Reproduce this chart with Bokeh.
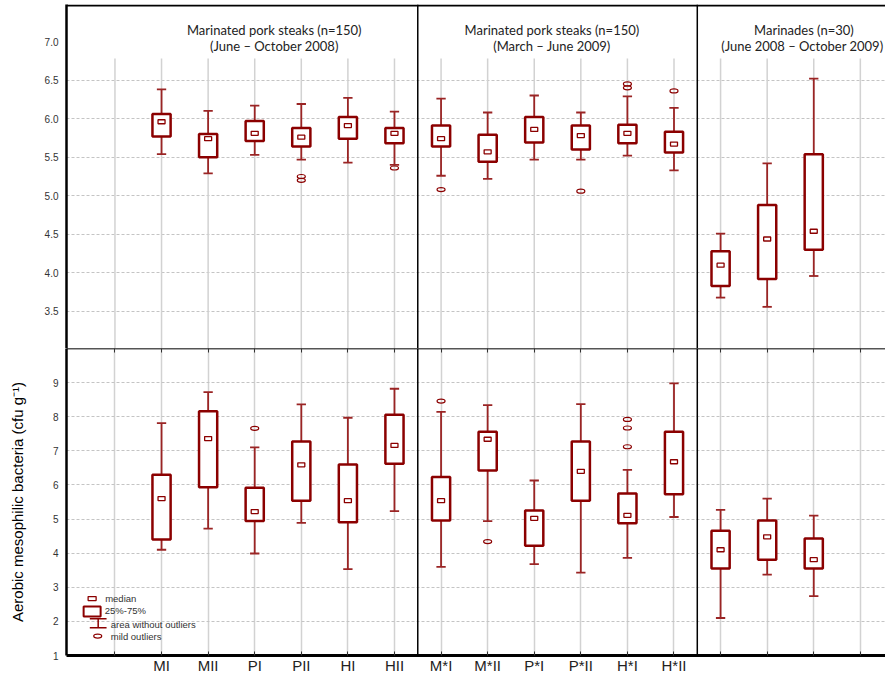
import math
from bokeh.plotting import figure
from bokeh.layouts import column
from bokeh.models import Range1d, FixedTicker, Span, Label, LinearAxis, PrintfTickFormatter
from bokeh.embed import file_html
from bokeh.resources import INLINE
from bokeh.core.properties import value

# ---------------- data ----------------
categories = ["MI", "MII", "PI", "PII", "HI", "HII",
              "M*I", "M*II", "P*I", "P*II", "H*I", "H*II",
              "M", "P", "H"]
italic_categories = ["M", "P", "H"]

# pH-value (upper panel)
ph_upper = [6.38, 6.10, 6.17, 6.19, 6.27, 6.09, 6.26, 6.08, 6.30, 6.08, 6.29, 6.14, 4.51, 5.42, 6.52]
ph_q3 = [6.06, 5.80, 5.97, 5.88, 6.02, 5.88, 5.91, 5.79, 6.02, 5.91, 5.92, 5.83, 4.28, 4.88, 5.54]
ph_median = [5.96, 5.74, 5.81, 5.76, 5.91, 5.81, 5.74, 5.57, 5.86, 5.78, 5.81, 5.67, 4.10, 4.44, 4.54]
ph_q1 = [5.77, 5.50, 5.71, 5.64, 5.74, 5.68, 5.64, 5.44, 5.69, 5.60, 5.68, 5.56, 3.83, 3.92, 4.30]
ph_lower = [5.54, 5.29, 5.53, 5.47, 5.43, 5.40, 5.26, 5.22, 5.47, 5.47, 5.52, 5.33, 3.68, 3.56, 3.96]
ph_outlier_cat = ["PII", "PII", "HII", "M*I", "P*II", "H*I", "H*I", "H*II"]
ph_outlier_val = [5.25, 5.20, 5.36, 5.08, 5.06, 6.45, 6.40, 6.36]

# Aerobic mesophilic bacteria (lower panel)
amb_upper = [7.81, 8.72, 7.10, 8.36, 7.97, 8.82, 8.14, 8.34, 6.13, 8.37, 6.44, 8.98, 5.27, 5.60, 5.10]
amb_q3 = [6.30, 8.16, 5.92, 7.27, 6.60, 8.06, 6.23, 7.56, 5.25, 7.27, 5.75, 7.56, 4.66, 4.96, 4.43]
amb_median = [5.60, 7.36, 5.22, 6.59, 5.54, 7.16, 5.54, 7.34, 5.02, 6.40, 5.11, 6.68, 4.10, 4.48, 3.81]
amb_q1 = [4.40, 5.93, 4.94, 5.54, 4.91, 6.62, 4.96, 6.42, 4.22, 5.54, 4.88, 5.73, 3.55, 3.81, 3.55]
amb_lower = [4.10, 4.72, 3.99, 4.89, 3.53, 5.23, 3.60, 4.94, 3.68, 3.43, 3.86, 5.06, 2.10, 3.37, 2.74]
amb_outlier_cat = ["PI", "M*I", "M*II", "H*I", "H*I", "H*I"]
amb_outlier_val = [7.66, 8.46, 4.34, 7.92, 7.67, 7.12]

ph_ticks = [3.5, 4.0, 4.5, 5.0, 5.5, 6.0, 6.5, 7.0]
ph_grid = [3.5, 4.0, 4.5, 5.0, 5.5, 6.0, 6.5]
amb_ticks = [1, 2, 3, 4, 5, 6, 7, 8, 9]
amb_grid = [2, 3, 4, 5, 6, 7, 8, 9]

group_title_1 = ["Marinated pork steaks (n=150)", "Marinated pork steaks (n=150)", "Marinades (n=30)"]
group_title_2 = ["(June \u2013 October 2008)", "(March \u2013 June 2009)", "(June 2008 \u2013  October 2009)"]
group_title_x = [3.42, 9.38, 14.79]
group_dividers = [6.5, 12.5]

legend_texts = ["median", "25%-75%", "area without outliers", "mild outliers"]

# ---------------- style ----------------
DR = "#8b0000"
WH = "#9a2424"
GRID_V = "#d2d2d2"
GRID_H = "#c4c4c4"
FONT = "Liberation Sans"
TITLE_FONT = "Lato"
W = 885
LEFT = 66
BOX_W = 0.39
CAP = 0.10

pos = {c: i + 1 for i, c in enumerate(categories)}
xs = [pos[c] for c in categories]
grid_x = list(range(0, len(categories) + 2))
plain_x = [pos[c] for c in categories if c not in italic_categories]
other_x = [g for g in grid_x if g not in plain_x]
X_RANGE = Range1d(-1.04, 16.54)


def draw_boxes(p, upper, q3, med, q1, lower, out_cat, out_val):
    p.segment(x0=xs, y0=q3, x1=xs, y1=upper, line_color=WH, line_width=1.8)
    p.segment(x0=xs, y0=q1, x1=xs, y1=lower, line_color=WH, line_width=1.8)
    p.segment(x0=[x - CAP for x in xs], y0=upper, x1=[x + CAP for x in xs], y1=upper,
              line_color=WH, line_width=1.8)
    p.segment(x0=[x - CAP for x in xs], y0=lower, x1=[x + CAP for x in xs], y1=lower,
              line_color=WH, line_width=1.8)
    p.vbar(x=xs, width=BOX_W, top=q3, bottom=q1, fill_color="white",
           line_color=DR, line_width=2.5)
    p.rect(x=xs, y=med, width=7, height=4, width_units="screen", height_units="screen",
           fill_color="white", line_color=DR, line_width=1.3)
    p.ellipse(x=[pos[c] for c in out_cat], y=out_val, width=8, height=4,
              width_units="screen", height_units="screen",
              fill_color=None, line_color=DR, line_width=1.2)


def style_left_axis(ax, ticks, fmt):
    ax.ticker = FixedTicker(ticks=ticks)
    ax.formatter = PrintfTickFormatter(format=fmt)
    ax.major_tick_out = 0
    ax.major_tick_in = 0
    ax.minor_tick_out = 0
    ax.minor_tick_in = 0
    ax.major_label_standoff = 8
    ax.major_label_text_font = FONT
    ax.major_label_text_font_size = "10px"
    ax.major_label_text_color = "#333333"
    ax.axis_line_color = "black"
    ax.axis_line_width = 2.5


# ---------------- upper panel ----------------
PH_LO, PH_HI = 3.02, 7.48
p1 = figure(width=W, height=348, x_range=X_RANGE, y_range=Range1d(PH_LO, PH_HI),
            output_backend="svg", toolbar_location=None, x_axis_location=None,
            min_border_left=LEFT, min_border_right=0, min_border_top=4, min_border_bottom=0)
p1.outline_line_color = None
style_left_axis(p1.yaxis[0], ph_ticks, "%.1f")
p1.xgrid.visible = False
p1.ygrid.ticker = FixedTicker(ticks=ph_grid)
p1.ygrid.grid_line_color = GRID_H
p1.ygrid.grid_line_dash = "3 2"
p1.ygrid.grid_line_width = 1

# vertical grid lines stop below the title band
p1.segment(x0=grid_x, y0=[PH_LO] * len(grid_x), x1=grid_x, y1=[6.78] * len(grid_x),
           line_color=GRID_V, line_width=1.5)

draw_boxes(p1, ph_upper, ph_q3, ph_median, ph_q1, ph_lower, ph_outlier_cat, ph_outlier_val)

p1.add_layout(Span(location=PH_HI - 0.013, dimension="width", line_color="black", line_width=2))
for d in group_dividers:
    p1.add_layout(Span(location=d, dimension="height", line_color="black", line_width=1.5))

for t1, t2, tx in zip(group_title_1, group_title_2, group_title_x):
    p1.add_layout(Label(x=tx, y=7.155, text=t1, text_align="center", text_baseline="middle",
                        text_font=TITLE_FONT, text_font_size="13px", text_color="#222222"))
    p1.add_layout(Label(x=tx, y=6.948, text=t2, text_align="center", text_baseline="middle",
                        text_font=TITLE_FONT, text_font_size="13px", text_color="#222222"))

p1.add_layout(Label(x=-46, x_units="screen", y=5.55, text="pH-value", angle=math.pi / 2,
                    text_align="center", text_baseline="middle", text_font=FONT,
                    text_font_size="15px", text_color="black"))

# ---------------- lower panel ----------------
p2 = figure(width=W, height=328, x_range=X_RANGE, y_range=Range1d(1, 10),
            output_backend="svg", toolbar_location=None,
            min_border_left=LEFT, min_border_right=0, min_border_top=0, min_border_bottom=20)
p2.outline_line_color = None
style_left_axis(p2.yaxis[0], amb_ticks, "%d")
ya = p2.yaxis[0]
ya.axis_label = "Aerobic mesophilic bacteria (cfu g\u207b\u00b9)"
ya.axis_label_text_font = FONT
ya.axis_label_text_font_size = "15px"
ya.axis_label_text_font_style = "normal"
ya.axis_label_text_color = "black"
ya.axis_label_standoff = 24

xa = p2.xaxis[0]
xa.ticker = FixedTicker(ticks=plain_x, minor_ticks=other_x)
xa.major_label_overrides = {pos[c]: c for c in categories if c not in italic_categories}
xa.major_tick_in = 4
xa.major_tick_out = 0
xa.minor_tick_in = 4
xa.minor_tick_out = 0
xa.major_tick_line_color = "#333333"
xa.minor_tick_line_color = "#333333"
xa.major_label_standoff = 1
xa.major_label_text_font = FONT
xa.major_label_text_font_size = "15px"
xa.major_label_text_color = "#222222"
xa.axis_line_color = "black"
xa.axis_line_width = 3

top_ax = LinearAxis(ticker=FixedTicker(ticks=[], minor_ticks=grid_x),
                    major_tick_in=0, major_tick_out=0, major_label_standoff=0,
                    minor_tick_in=4, minor_tick_out=0, minor_tick_line_color="#333333",
                    axis_line_color="#555555", axis_line_width=2)
p2.add_layout(top_ax, "above")

p2.xgrid.ticker = FixedTicker(ticks=grid_x)
p2.xgrid.grid_line_color = GRID_V
p2.xgrid.grid_line_width = 1.5
p2.ygrid.ticker = FixedTicker(ticks=amb_grid)
p2.ygrid.grid_line_color = GRID_H
p2.ygrid.grid_line_dash = "3 2"
p2.ygrid.grid_line_width = 1

for d in group_dividers:
    p2.add_layout(Span(location=d, dimension="height", line_color="black", line_width=1.5))

draw_boxes(p2, amb_upper, amb_q3, amb_median, amb_q1, amb_lower, amb_outlier_cat, amb_outlier_val)

for c in italic_categories:
    p2.add_layout(Label(x=pos[c], y=-1, y_units="screen", text=c, text_align="center",
                        text_baseline="top", text_font=FONT, text_font_size="15px",
                        text_font_style="italic", text_color="#222222"))

# legend (drawn in the lower-left corner)
LX = -0.49
p2.rect(x=[LX], y=[2.67], width=8, height=4, width_units="screen", height_units="screen",
        fill_color="white", line_color=DR, line_width=1.3)
p2.rect(x=[LX], y=[2.29], width=17, height=10, width_units="screen", height_units="screen",
        fill_color="white", line_color=DR, line_width=2)
p2.segment(x0=[-0.36, -0.54, -0.54], y0=[2.08, 2.08, 1.81], x1=[-0.36, -0.18, -0.18],
           y1=[1.81, 2.08, 1.81], line_color=DR, line_width=1.5)
p2.ellipse(x=[-0.37], y=[1.57], width=8, height=4, width_units="screen", height_units="screen",
           fill_color=None, line_color=DR, line_width=1.2)
p2.text(x=[-0.21, -0.22, -0.09, -0.09], y=[2.66, 2.31, 1.91, 1.57], text=legend_texts,
        text_font=value(FONT), text_font_size="9.5px", text_color="#333333",
        text_baseline="middle", text_align="left")

layout = column(p1, p2, spacing=0)
open("out.html", "w").write(file_html(layout, INLINE))
